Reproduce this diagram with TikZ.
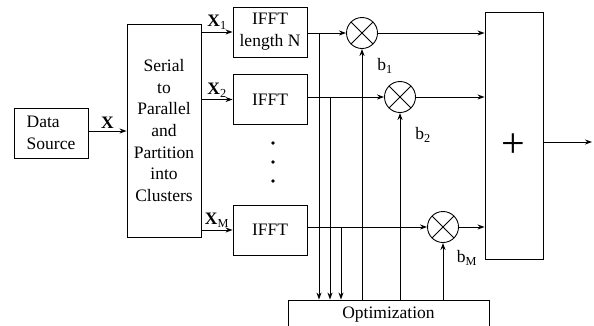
\documentclass[tikz,border=0pt]{standalone}
\usepackage{fontspec}
\setmainfont{Liberation Serif}
\usetikzlibrary{positioning,arrows.meta}

\tikzset{
  blk/.style={draw,minimum width=74pt,minimum height=50pt,inner sep=1pt,align=center},
  mult/.style={draw,circle,minimum size=31pt,inner sep=0pt,
    path picture={\draw (path picture bounding box.north west)--(path picture bounding box.south east)
      (path picture bounding box.south west)--(path picture bounding box.north east);}},
  lbl/.style={inner sep=2pt}
}

\begin{document}
\begin{tikzpicture}[x=1pt,y=-1pt,line width=.9pt,
  font=\fontsize{17.5}{21.7}\selectfont,
  >={Stealth[length=7pt,width=5pt]}]
\useasboundingbox (0,0) rectangle (594,325);
\clip (0,0) rectangle (594,325);

% blocks
\node[blk,align=left] (src) at (51,133) {Data\\Source};
\node[blk,minimum height=213pt] (sp) at (164,130.5) {Serial\\to\\Parallel\\and\\Partition\\into\\Clusters};
\node[blk] (ifft1) at (270,32) {IFFT\\length N};
\node[blk] (ifft2) at (270,99.5) {IFFT};
\node[blk] (ifftM) at (270,230) {IFFT};
\node[draw,minimum width=201pt,minimum height=30pt] (opt) at (388.5,315) {Optimization};
\node[draw,minimum width=58pt,minimum height=247pt] (sum) at (514,135.5) {};
\node[font=\fontsize{42}{42}\selectfont,inner sep=0pt] (plus) at (513,146) {+};

% multipliers
\node[mult] (m1) at (362,33) {};
\node[mult] (m2) at (400,97) {};
\node[mult] (mM) at (443,227) {};

% dots
\fill (273,143) circle(1.8);
\fill (273,162) circle(1.8);
\fill (273,181) circle(1.8);

% inputs
\draw[->] (src.east |- 0,131) -- (sp.west |- 0,131) node[midway,above,lbl]{\textbf{X}};
\draw[->] (sp.east |- ifft1) -- (ifft1.west) node[midway,above,lbl]{\textbf{X}\textsubscript{1}};
\draw[->] (sp.east |- ifft2) -- (ifft2.west) node[midway,above,lbl]{\textbf{X}\textsubscript{2}};
\draw[->] (sp.east |- ifftM) -- (ifftM.west) node[midway,above,lbl]{\textbf{X}\textsubscript{M}};

% to multipliers and sum
\draw[->] (ifft1.east |- m1) -- (m1);
\draw[->] (ifft2.east |- m2) -- (m2);
\draw[->] (ifftM.east |- mM) -- (mM);
\draw[->] (m1) -- (m1 -| sum.west);
\draw[->] (m2) -- (m2 -| sum.west);
\draw[->] (mM) -- (mM -| sum.west);
\coordinate (out) at (592,142);
\draw[->] (sum.east |- out) -- (out);

% taps to optimization
\coordinate (t1) at (319,0);
\coordinate (t2) at (330,0);
\coordinate (tM) at (341,0);
\draw[->] (t1 |- m1) -- (t1 |- opt.north);
\draw[->] (t2 |- m2) -- (t2 |- opt.north);
\draw[->] (tM |- mM) -- (tM |- opt.north);

% weights
\draw[->] (opt.north -| m1) -- (m1);
\draw[->] (opt.north -| m2) -- (m2);
\draw[->] (opt.north -| mM) -- (mM);
\node (lb1) at ([shift={(23,33)}]m1) {b\textsubscript{1}};
\node (lb2) at ([shift={(23,38)}]m2) {b\textsubscript{2}};
\node (lbM) at ([shift={(24,31)}]mM) {b\textsubscript{M}};
\end{tikzpicture}
\end{document}
